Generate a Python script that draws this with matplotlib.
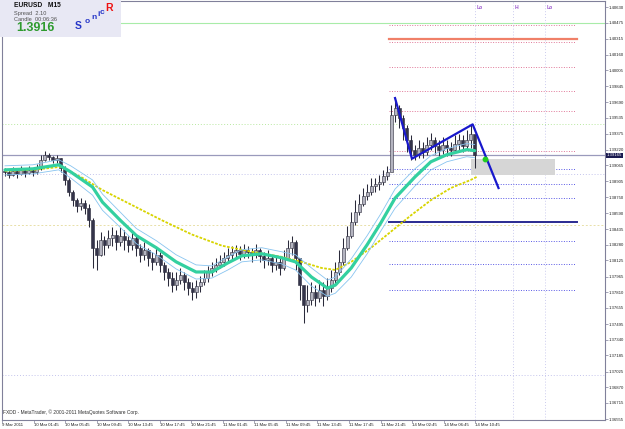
import matplotlib
matplotlib.use('Agg')
import matplotlib.pyplot as plt
import matplotlib.transforms as mtransforms
from matplotlib.patches import Rectangle
import numpy as np

# ---------------- data (prices in units of 0.0001) ----------------
close = [13900, 13897, 13901, 13898, 13902, 13899, 13902, 13900, 13904, 13912,
         13917, 13915, 13912, 13914, 13904, 13892, 13880, 13872, 13866, 13869,
         13864, 13852, 13825, 13818, 13833, 13828, 13835, 13838, 13831, 13837,
         13833, 13828, 13835, 13825, 13818, 13823, 13815, 13811, 13818, 13808,
         13801, 13795, 13788, 13793, 13798, 13791, 13785, 13781, 13787, 13791,
         13795, 13801, 13805, 13808, 13811, 13815, 13818, 13821, 13823, 13819,
         13823, 13821, 13818, 13823, 13817, 13813, 13815, 13808, 13811, 13805,
         13815, 13825, 13831, 13815, 13788, 13768, 13773, 13781, 13775, 13783,
         13777, 13785, 13793, 13801, 13811, 13825, 13837, 13850, 13860, 13868,
         13876, 13880, 13886, 13888, 13890, 13896, 13900, 13956, 13963, 13953,
         13943, 13932, 13922, 13917, 13924, 13920, 13927, 13932, 13926, 13922,
         13927, 13924, 13922, 13928, 13932, 13926, 13932, 13937, 13916.5]
high = [13904, 13902, 13905, 13902, 13906, 13903, 13906, 13904, 13908, 13917,
        13921, 13919, 13916, 13917, 13914, 13906, 13894, 13882, 13874, 13874,
        13872, 13868, 13854, 13833, 13841, 13837, 13843, 13845, 13843, 13845,
        13843, 13837, 13843, 13837, 13829, 13831, 13825, 13821, 13825, 13821,
        13811, 13805, 13801, 13801, 13805, 13801, 13795, 13791, 13793, 13797,
        13803, 13807, 13811, 13815, 13818, 13821, 13825, 13827, 13828, 13827,
        13829, 13827, 13825, 13829, 13825, 13821, 13823, 13818, 13818, 13815,
        13823, 13833, 13837, 13833, 13808, 13783, 13788, 13791, 13788, 13793,
        13791, 13795, 13803, 13811, 13823, 13835, 13846, 13860, 13872, 13878,
        13884, 13888, 13894, 13894, 13897, 13902, 13906, 13966, 13973, 13966,
        13956, 13946, 13936, 13927, 13932, 13930, 13934, 13938, 13934, 13932,
        13934, 13932, 13930, 13936, 13937, 13936, 13941, 13946, 13934]
low = [13896, 13894, 13896, 13894, 13897, 13895, 13898, 13896, 13898, 13902,
       13911, 13912, 13909, 13909, 13900, 13887, 13876, 13866, 13860, 13862,
       13858, 13845, 13805, 13803, 13817, 13818, 13825, 13827, 13823, 13827,
       13823, 13821, 13823, 13817, 13811, 13813, 13807, 13803, 13808, 13801,
       13793, 13787, 13781, 13783, 13789, 13783, 13778, 13773, 13775, 13781,
       13788, 13791, 13797, 13801, 13805, 13807, 13811, 13813, 13815, 13813,
       13815, 13815, 13811, 13815, 13811, 13805, 13808, 13801, 13803, 13798,
       13803, 13815, 13818, 13803, 13773, 13751, 13761, 13768, 13767, 13771,
       13767, 13773, 13781, 13788, 13798, 13808, 13823, 13835, 13847, 13857,
       13866, 13872, 13877, 13880, 13882, 13887, 13892, 13946, 13949, 13943,
       13932, 13920, 13912, 13912, 13914, 13914, 13917, 13922, 13918, 13916,
       13918, 13916, 13916, 13920, 13922, 13920, 13922, 13924, 13904]
first_open = 13901

# moving averages (bar index in M15 bars, value)
ma_bars = [0, 14, 27, 33, 44, 49, 58, 66, 76, 86, 96, 104, 112, 119, 129, 139, 146,
           154, 162, 166, 174, 182, 189, 196, 206, 214, 222, 232, 236]
ma_mid = [13902, 13903, 13907, 13900, 13885, 13870, 13852, 13837, 13825, 13811, 13801,
          13801, 13810, 13817, 13819, 13815, 13811, 13796, 13785, 13788, 13805, 13828,
          13850, 13874, 13895, 13910, 13917, 13922, 13921]
ma_up = [13906, 13907, 13912, 13906, 13892, 13878, 13860, 13844, 13832, 13818, 13808,
         13807, 13816, 13823, 13825, 13821, 13818, 13805, 13793, 13796, 13814, 13837,
         13859, 13883, 13903, 13916, 13923, 13928, 13927]
ma_dn = [13897, 13898, 13902, 13894, 13877, 13862, 13845, 13829, 13818, 13804, 13794,
         13795, 13803, 13811, 13813, 13809, 13803, 13787, 13777, 13780, 13796, 13819,
         13842, 13864, 13886, 13902, 13910, 13915, 13914]
slow_bars = [0, 14, 28, 39, 49, 64, 79, 94, 109, 124, 139, 149, 159, 166, 174, 184,
             194, 204, 214, 224, 234, 237]
slow_ma = [13901, 13902, 13905, 13894, 13882, 13867, 13852, 13838, 13827, 13821, 13816,
           13811, 13805, 13803, 13811, 13825, 13841, 13857, 13872, 13884, 13892, 13895]

# zigzag projection
zz_bars = [196, 204.5, 235, 248]
zz_vals = [13973, 13913, 13947, 13884]
dot_bar, dot_val = 241, 13913

# horizontal levels
pink_levels = [14045, 14028, 14004, 13980, 13960, 13921]
blue_levels = [13903, 13888, 13874, 13832, 13809, 13783]
red_level = 14031
navy_level = 13850
full_green_solid = 14047
full_green_dot = 13947
full_lav_dot = [13898, 13699]
full_yel_dot = 13847
bid = 13916.5
box_bars = (234, 276.5)
box_vals = (13897, 13913)
vlines_bars = [236, 255.5, 271.5]
vline_labels = ['Lo', 'H', 'Lo']

ytick_vals = [1.40630, 1.40475, 1.40315, 1.40160, 1.40005, 1.39845, 1.39690, 1.39535,
              1.39375, 1.39220, 1.39065, 1.38905, 1.38750, 1.38590, 1.38435, 1.38280,
              1.38125, 1.37965, 1.37810, 1.37655, 1.37495, 1.37340, 1.37185, 1.37025,
              1.36870, 1.36715, 1.36555]
xtick_labels = ['9 Mar 2011', '10 Mar 01:45', '10 Mar 05:45', '10 Mar 09:45',
                '10 Mar 13:45', '10 Mar 17:45', '10 Mar 21:45', '11 Mar 01:45',
                '11 Mar 05:45', '11 Mar 09:45', '11 Mar 13:45', '11 Mar 17:45',
                '11 Mar 21:45', '14 Mar 02:45', '14 Mar 06:45', '14 Mar 10:45']

P = lambda v: np.asarray(v, dtype=float) / 1e4

# ---------------- figure ----------------
W, H = 625, 429
fig = plt.figure(figsize=(W / 100, H / 100), dpi=100)
fig.patch.set_facecolor('white')
ax = fig.add_axes([2 / W, (H - 420) / H, 603 / W, 419 / H])
ax.set_facecolor('white')
ax.set_xlim(0, 301.5)
ax.set_ylim(1.36546, 1.40690)

FONT = 'Liberation Sans'

# full width lines
ax.axhline(P(full_green_solid), color='#a8eca8', lw=0.8, zorder=1)
ax.axhline(P(full_green_dot), color='#b8e8a0', lw=0.7, ls=(0, (1, 2)), zorder=1)
for v in full_lav_dot:
    ax.axhline(P(v), color='#c4c4ec', lw=0.7, ls=(0, (1, 2)), zorder=1)
ax.axhline(P(full_yel_dot), color='#e8e0a8', lw=0.7, ls=(0, (2, 2)), zorder=1)
ax.axhline(P(bid), color='#9a9abc', lw=0.9, zorder=1)

for t in vlines_bars:
    ax.axvline(t, color='#ccccee', lw=0.7, ls=(0, (1, 2)), zorder=1)
trans_top = mtransforms.blended_transform_factory(ax.transData, ax.transAxes)
for t, lab in zip(vlines_bars, vline_labels):
    ax.text(t + 0.8, 0.985, lab, transform=trans_top, fontsize=3.6, color='#9955cc',
            fontweight='bold', family=FONT, va='center', ha='left')

lvl_x = (193, 286.5)
for v in pink_levels:
    ax.plot(lvl_x, [P(v)] * 2, color='#e07898', lw=0.7, ls=(0, (1, 1.6)), zorder=2)
for v in blue_levels:
    ax.plot(lvl_x, [P(v)] * 2, color='#5a5ae6', lw=0.7, ls=(0, (1, 1.6)), zorder=2)
ax.plot((193, 287.5), [P(red_level)] * 2, color='#f08068', lw=1.6, zorder=2)
ax.plot((193, 287.5), [P(navy_level)] * 2, color='#2a2a90', lw=1.4, zorder=2)

ax.add_patch(Rectangle((box_bars[0], P(box_vals[0])), box_bars[1] - box_bars[0],
                       P(box_vals[1]) - P(box_vals[0]), facecolor='#d6d6d6',
                       edgecolor='none', zorder=2))

# candles
c = P(close)
h = P(high)
l = P(low)
o = np.concatenate([[P(first_open)], c[:-1]])
t = np.arange(len(c)) * 2
ax.vlines(t, l, h, color='#2a2a3a', lw=0.75, zorder=3)
bull = c >= o
ax.bar(t[bull], (c - o)[bull], bottom=o[bull], width=1.5, color='#b4b4c0',
       edgecolor='#2a2a3a', linewidth=0.4, zorder=4)
ax.bar(t[~bull], (c - o)[~bull], bottom=o[~bull], width=1.5, color='#34344a',
       edgecolor='#2a2a3a', linewidth=0.4, zorder=4)

# moving averages
ax.plot(slow_bars, P(slow_ma), color='#d8d400', lw=1.3, ls=(0, (1.5, 0.8)), zorder=5)
ax.plot(ma_bars, P(ma_up), color='#88c4f0', lw=0.6, zorder=5)
ax.plot(ma_bars, P(ma_dn), color='#88c4f0', lw=0.6, zorder=5)
ax.plot(ma_bars, P(ma_mid), color='#33d0a0', lw=2.3, zorder=6, solid_capstyle='round')

# zigzag
ax.plot(zz_bars, P(zz_vals), color='#1818cc', lw=1.6, zorder=7)
ax.plot([dot_bar], [P(dot_val)], 'o', color='#22cc22', ms=3.2, zorder=8)

# axes styling
for s in ax.spines.values():
    s.set_color('#80809a')
    s.set_linewidth(0.8)
ax.yaxis.tick_right()
ax.set_yticks(ytick_vals)
ax.set_yticklabels(['%.5f' % v for v in ytick_vals])
ax.tick_params(axis='y', length=2, width=0.5, colors='#80809a', labelsize=3.1,
               labelcolor='#202020', pad=0.8)
xt = np.arange(len(xtick_labels)) * 15.85 - 1.5
ax.set_xticks(xt)
ax.set_xticklabels(xtick_labels)
ax.tick_params(axis='x', length=2, width=0.5, colors='#80809a', labelsize=3.1,
               labelcolor='#202020', pad=0.5)
for lab in ax.get_xticklabels() + ax.get_yticklabels():
    lab.set_family(FONT)
for lab in ax.get_xticklabels():
    lab.set_ha('left')

trans_axis = mtransforms.blended_transform_factory(ax.transAxes, ax.transData)
ax.text(1.003, P(bid), '%.5f' % P(bid), transform=trans_axis, fontsize=3.1, color='white',
        family=FONT, va='center', ha='left', zorder=10, clip_on=False,
        bbox=dict(boxstyle='square,pad=0.15', facecolor='#1a1a50', edgecolor='none'))

ax.text(0.002, 0.018, 'FXDD - MetaTrader, \u00a9 2001-2011 MetaQuotes Software Corp.',
        transform=ax.transAxes, fontsize=3.5, color='#303030', family=FONT,
        va='center', ha='left')

# info box
ib = fig.add_axes([0, (H - 37) / H, 121 / W, 37 / H])
ib.set_xlim(0, 121)
ib.set_ylim(37, 0)
ib.set_axis_off()
ib.add_patch(Rectangle((0, 0), 121, 37, facecolor='#e8e8f4', edgecolor='none'))
ib.text(14, 5.5, 'EURUSD   M15', fontsize=4.8, fontweight='bold', color='#101010',
        family=FONT, va='center')
ib.text(14, 13, 'Spread  2.10', fontsize=4.1, color='#505050', family=FONT, va='center')
ib.text(14, 19.5, 'Candle  00:06:36', fontsize=4.1, color='#505050', family=FONT,
        va='center')
ib.text(16, 28, '1.3916', fontsize=9, fontweight='bold', color='#2e9a2e', family=FONT,
        va='center')
sonic = [('S', 78, 26, 7.5), ('o', 87, 21.5, 6), ('n', 93.5, 17.5, 6), ('i', 98.5, 14, 6),
         ('c', 102.5, 12.5, 6)]
for ch, xx, yy, fs in sonic:
    ib.text(xx, yy, ch, fontsize=fs, fontweight='bold', color='#2636c8', family=FONT,
            ha='center', va='center')
ib.text(109, 8, 'R', fontsize=7.5, fontweight='bold', color='#ee1010', family=FONT,
        ha='center', va='center')

fig.savefig('out.png', dpi=100, facecolor='white')
